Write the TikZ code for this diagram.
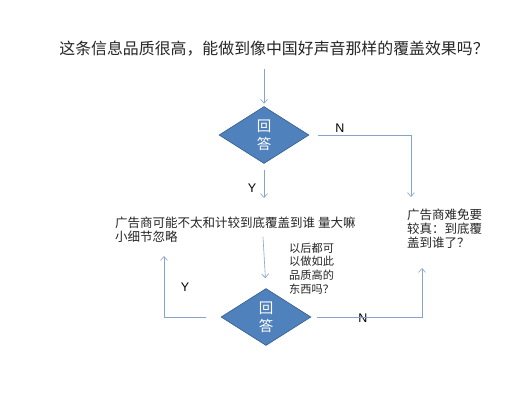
\documentclass[tikz,border=0pt]{standalone}
\usepackage{fontspec}
\setmainfont{Noto Sans CJK SC}
\newfontfamily\latinfont{Liberation Sans}
\usetikzlibrary{shapes.geometric,arrows.meta}
\definecolor{linec}{HTML}{86A4CB}
\definecolor{dfill}{HTML}{4F81BD}
\definecolor{ddraw}{HTML}{385D8A}
\tikzset{
  conn/.style={draw=linec, line width=0.6pt, -{Straight Barb[length=4pt,width=7pt]}},
  decision/.style={diamond, fill=dfill, draw=ddraw, line width=0.6pt, inner sep=0pt,
    minimum width=90pt, minimum height=57pt, text=white, align=center,
    font=\fontsize{14.5}{18}\selectfont},
  yn/.style={font=\latinfont\fontsize{12.5}{14}\selectfont, inner sep=0pt},
  body/.style={align=left, inner sep=0pt, anchor=west, text=black!85}
}
\begin{document}
\begin{tikzpicture}[x=1pt,y=-1pt]
\useasboundingbox[fill=white] (0,0) rectangle (522,400);
\node[inner sep=0pt, font=\fontsize{15.9}{18}\selectfont, text=black!85] (title) at (274,49) {这条信息品质很高，能做到像中国好声音那样的覆盖效果吗？};
\node[decision] (d1) at (264,135) {回\\答};
\node[decision] (d2) at (266,317) {回\\答};
\node[body, font=\fontsize{12.5}{14}\selectfont] (ltext) at (115,230) {广告商可能不太和计较到底覆盖到谁 量大嘛\\小细节忽略};
\node[body, font=\fontsize{12.5}{14}\selectfont] (rtext) at (407,229) {广告商难免要\\较真：到底覆\\盖到谁了？};
\node[body, font=\fontsize{11.2}{13.7}\selectfont] (mtext) at (289,268.5) {以后都可\\以做如此\\品质高的\\东西吗？};
\node[yn] (n1) at (340,128) {N};
\node[yn] (y1) at (252,188) {Y};
\node[yn] (y2) at (185,287) {Y};
\node[yn] (n2) at (363,318) {N};
\coordinate (top) at (264,69);
\coordinate (rin) at (411,197);
\coordinate (yin) at (264,198);
\coordinate (mout) at (263,237);
\coordinate (lin) at (164,256);
\coordinate (rin2) at (422,268);
\draw[conn, shorten >=2.5pt] (top) -- (d1.north);
\draw[conn, shorten <=9pt] (d1.east) -| (rin);
\draw[conn, shorten <=6pt] (d1.south) -- (yin);
\draw[conn, shorten >=10pt] (mout) -- (d2.north);
\draw[conn, shorten <=15pt] (d2.west) -| (lin);
\draw[conn, shorten <=6pt] (d2.east) -| (rin2);
\end{tikzpicture}
\end{document}
